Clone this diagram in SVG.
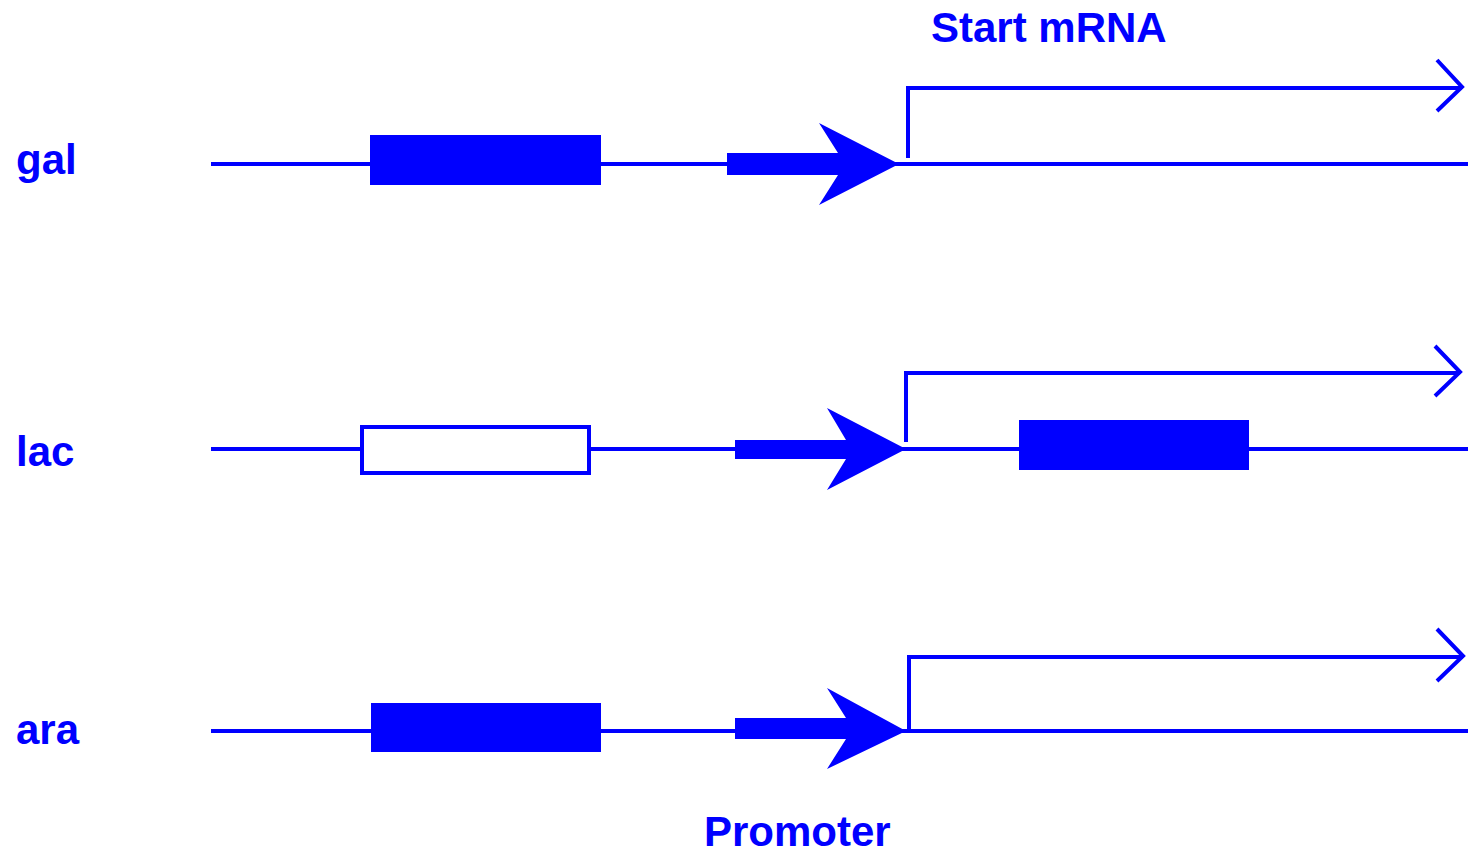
<svg xmlns="http://www.w3.org/2000/svg" width="1468" height="853" viewBox="0 0 1468 853">
  <style>
    .lbl { font-family: "Liberation Sans", Arial, sans-serif; font-weight: bold; font-size: 42px; fill: #0000ff; }
    .dna { stroke: #0000ff; stroke-width: 4; fill: none; }
    .fill { fill: #0000ff; }
    .open { fill: #ffffff; stroke: #0000ff; stroke-width: 4; }
  </style>

  <g id="labels">
    <text class="lbl" x="16" y="174">gal</text>
    <text class="lbl" x="16" y="466">lac</text>
    <text class="lbl" x="16" y="744">ara</text>
    <text class="lbl" x="931" y="42">Start mRNA</text>
    <text class="lbl" x="704" y="846">Promoter</text>
  </g>

  <g id="gal">
    <line class="dna" x1="211" y1="164" x2="1468" y2="164"/>
    <rect class="fill" x="370" y="135" width="231" height="50"/>
    <polygon class="fill" points="819,123 899,164 819,205 838,175 727,175 727,153 838,153"/>
  </g>

  <g id="lac">
    <line class="dna" x1="211" y1="449" x2="1468" y2="449"/>
    <rect class="open" x="362" y="427" width="227" height="46"/>
    <polygon class="fill" points="827,408 906,449 827,490 846,459 735,459 735,440 846,440"/>
    <rect class="fill" x="1019" y="420" width="230" height="50"/>
  </g>

  <g id="ara">
    <line class="dna" x1="211" y1="731" x2="1468" y2="731"/>
    <rect class="fill" x="371" y="703" width="230" height="49"/>
    <polygon class="fill" points="827,688 906,731 827,769 846,739 735,739 735,718 846,718"/>
  </g>

  <g id="connectors" class="dna">
    <!-- transcription start arrows -->
    <polyline points="908,158 908,88 1462,88"/>
    <polyline points="1437,60 1462,87 1437,111"/>
    <polyline points="906,442 906,373 1460,373"/>
    <polyline points="1435,346 1460,372 1435,396"/>
    <polyline points="909,729 909,657 1463,657"/>
    <polyline points="1437,629 1463,656 1437,681"/>
  </g>
</svg>
